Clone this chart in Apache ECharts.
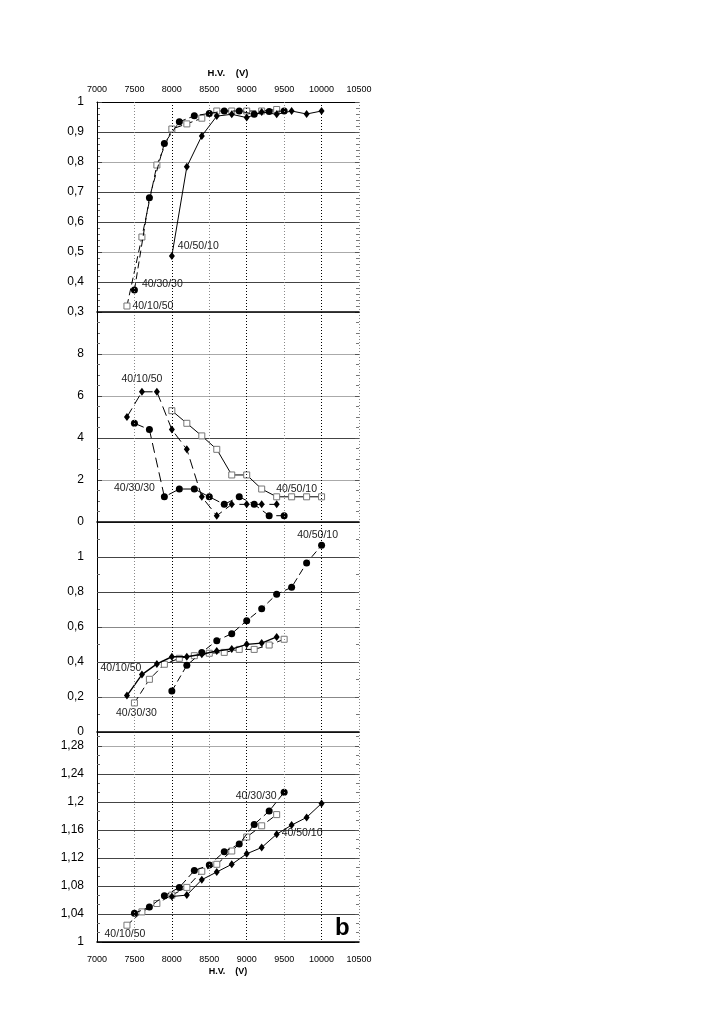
<!DOCTYPE html>
<html>
<head>
<meta charset="utf-8">
<script src="https://cdn.jsdelivr.net/npm/echarts@6/dist/echarts.min.js"></script>
<style>
    html, body { margin: 0; background: #fff; }
    #chart { width: 708px; height: 1035px; }
</style>
</head>
<body>
<div id="chart"></div>
<script>
// panel 1 (efficiency-like, 0.3 .. 1)
const p1SquareX = [7400, 7600, 7800, 8000, 8200, 8400, 8600, 8800, 9000, 9200, 9400];
const p1SquareY = [0.32, 0.55, 0.79, 0.91, 0.927, 0.946, 0.97, 0.97, 0.97, 0.97, 0.975];
const p1CircleX = [7500, 7700, 7900, 8100, 8300, 8500, 8700, 8900, 9100, 9300, 9500];
const p1CircleY = [0.373, 0.681, 0.862, 0.934, 0.954, 0.962, 0.97, 0.97, 0.959, 0.968, 0.97];
const p1DiamondX = [8000, 8200, 8400, 8600, 8800, 9000, 9200, 9400, 9600, 9800, 10000];
const p1DiamondY = [0.487, 0.784, 0.887, 0.953, 0.959, 0.948, 0.967, 0.959, 0.97, 0.96, 0.97];

// panel 2 (0 .. 10)
const p2DiamondX = [7400, 7600, 7800, 8000, 8200, 8400, 8600, 8800, 9000, 9200, 9400];
const p2DiamondY = [5.0, 6.2, 6.2, 4.4, 3.46, 1.2, 0.3, 0.84, 0.84, 0.84, 0.84];
const p2CircleX = [7500, 7700, 7900, 8100, 8300, 8500, 8700, 8900, 9100, 9300, 9500];
const p2CircleY = [4.7, 4.4, 1.2, 1.57, 1.57, 1.2, 0.84, 1.2, 0.84, 0.3, 0.3];
const p2SquareX = [8000, 8200, 8400, 8600, 8800, 9000, 9200, 9400, 9600, 9800, 10000];
const p2SquareY = [5.3, 4.7, 4.1, 3.46, 2.24, 2.24, 1.57, 1.2, 1.2, 1.2, 1.2];

// panel 3 (0 .. 1.2)
const p3CircleX = [8000, 8200, 8400, 8600, 8800, 9000, 9200, 9400, 9600, 9800, 10000];
const p3CircleY = [0.234, 0.381, 0.455, 0.522, 0.562, 0.636, 0.705, 0.787, 0.827, 0.966, 1.067];
const p3DiamondX = [7400, 7600, 7800, 8000, 8200, 8400, 8600, 8800, 9000, 9200, 9400];
const p3DiamondY = [0.208, 0.328, 0.389, 0.43, 0.43, 0.444, 0.463, 0.474, 0.501, 0.508, 0.543];
const p3SquareX = [7500, 7700, 7900, 8100, 8300, 8500, 8700, 8900, 9100, 9300, 9500];
const p3SquareY = [0.166, 0.301, 0.387, 0.421, 0.436, 0.45, 0.455, 0.472, 0.472, 0.497, 0.53];

// panel 4 (1 .. 1.3)
const p4CircleX = [7500, 7700, 7900, 8100, 8300, 8500, 8700, 8900, 9100, 9300, 9500];
const p4CircleY = [1.041, 1.05, 1.066, 1.078, 1.102, 1.11, 1.129, 1.14, 1.168, 1.187, 1.214];
const p4SquareX = [7400, 7600, 7800, 8000, 8200, 8400, 8600, 8800, 9000, 9200, 9400];
const p4SquareY = [1.024, 1.043, 1.055, 1.067, 1.078, 1.101, 1.111, 1.13, 1.15, 1.166, 1.182];
const p4DiamondX = [8000, 8200, 8400, 8600, 8800, 9000, 9200, 9400, 9600, 9800, 10000];
const p4DiamondY = [1.065, 1.067, 1.089, 1.1, 1.111, 1.126, 1.135, 1.154, 1.167, 1.178, 1.198];

const xLabels = ['7000', '7500', '8000', '8500', '9000', '9500', '10000', '10500'];
const axisTitle = 'H.V.    (V)';

const font = 'Liberation Sans';
const gridTops = [102, 312, 522, 732];
const gridHeight = 210;

const chart = echarts.init(document.getElementById('chart'));

function comma(v) {
    return String(+v.toFixed(2)).replace('.', ',');
}

function pts(xs, ys, labelAt, labelOpt) {
    return xs.map((x, i) => {
        if (i !== labelAt) return [x, ys[i]];
        return {
            value: [x, ys[i]],
            label: Object.assign({
                show: true,
                color: '#222',
                fontSize: 10.5,
                fontFamily: font
            }, labelOpt)
        };
    });
}

const marks = {
    circle: { symbol: 'circle', symbolSize: 7, itemStyle: { color: '#000' } },
    diamond: { symbol: 'diamond', symbolSize: [6, 8], itemStyle: { color: '#000' } },
    square: {
        symbol: 'rect', symbolSize: 6,
        itemStyle: { color: '#fff', borderColor: '#777', borderWidth: 1 }
    }
};

function line(grid, mark, data, dash, width) {
    return Object.assign({
        type: 'line',
        xAxisIndex: grid,
        yAxisIndex: grid,
        data: data,
        showAllSymbol: true,
        lineStyle: { color: '#000', width: width || 1, type: dash || 'solid' },
        emphasis: { disabled: true },
        label: { show: false },
        z: mark === 'square' ? 3 : 4
    }, marks[mark]);
}

function yAxis(grid, min, max, interval, minor, colors) {
    return {
        type: 'value',
        gridIndex: grid,
        min: min,
        max: max,
        interval: interval,
        axisLine: { show: true, lineStyle: { color: '#000', width: 1 } },
        axisTick: { show: true, inside: true, length: 5, lineStyle: { color: '#444' } },
        minorTick: { show: true, splitNumber: minor, length: 3, lineStyle: { color: '#666' } },
        axisLabel: {
            color: '#000', fontSize: 12, fontFamily: font, margin: 13,
            showMaxLabel: grid === 0,
            formatter: comma
        },
        splitLine: { show: true, lineStyle: { color: colors, width: 1.2 } }
    };
}

function yRight(grid, min, max, interval, minor) {
    return {
        type: 'value',
        gridIndex: grid,
        position: 'right',
        min: min,
        max: max,
        interval: interval,
        axisLine: { show: false },
        axisTick: { show: true, inside: true, length: 4, lineStyle: { color: '#555' } },
        minorTick: { show: true, splitNumber: minor, length: 3, lineStyle: { color: '#777' } },
        axisLabel: { show: false },
        splitLine: { show: false }
    };
}

function xAxis(grid) {
    const last = grid === 3;
    return {
        type: 'value',
        gridIndex: grid,
        min: 7000,
        max: 10500,
        interval: 500,
        axisLine: { show: true, onZero: false, lineStyle: { color: '#000', width: 1.6 } },
        axisTick: { show: false },
        axisLabel: {
            show: last, color: '#000', fontSize: 9, fontFamily: font, margin: 13,
            formatter: v => xLabels[Math.round((v - 7000) / 500)]
        },
        name: last ? axisTitle : '',
        nameLocation: 'middle',
        nameGap: 25,
        nameTextStyle: { color: '#000', fontSize: 9, fontWeight: 'bold', fontFamily: font },
        splitLine: { show: true, lineStyle: { color: ['#000', '#888'], type: [1, 2], width: 1 } },
        z: 5
    };
}

const grids = gridTops.map(t => ({ left: 97, width: 262, top: t, height: gridHeight }));

const xAxes = [0, 1, 2, 3].map(xAxis);
xAxes.push({
    type: 'value',
    gridIndex: 0,
    position: 'top',
    min: 7000,
    max: 10500,
    interval: 500,
    axisLine: { show: true, lineStyle: { color: '#000', width: 1.2 } },
    axisTick: { show: false },
    axisLabel: {
        color: '#000', fontSize: 9, fontFamily: font, margin: 8,
        formatter: v => xLabels[Math.round((v - 7000) / 500)]
    },
    name: axisTitle,
    nameLocation: 'middle',
    nameGap: 24,
    nameTextStyle: { color: '#000', fontSize: 9.5, fontWeight: 'bold', fontFamily: font },
    splitLine: { show: false }
});

const dark = '#444';
const light = '#aaa';

const yAxes = [
    yAxis(0, 0.3, 1, 0.1, 5, ['#000', dark, light, dark, dark, light, dark, '#000']),
    yAxis(1, 0, 10, 2, 4, ['#000', light, dark, light, light, light]),
    yAxis(2, 0, 1.2, 0.2, 2, ['#000', '#888', dark, '#888', dark, dark, dark]),
    yAxis(3, 1, 1.3, 0.04, 3, ['#000', dark, dark, dark, dark, dark, dark, light, dark]),
    yRight(0, 0.3, 1, 0.1, 5),
    yRight(1, 0, 10, 2, 4),
    yRight(2, 0, 1.2, 0.2, 2),
    yRight(3, 1, 1.3, 0.04, 3)
];

const dashA = [7, 4];
const dashB = [10, 5];

const series = [
    line(0, 'square', pts(p1SquareX, p1SquareY, 0, { formatter: '40/10/50', position: 'right', offset: [-3, 0] }), dashA),
    line(0, 'circle', pts(p1CircleX, p1CircleY, 0, { formatter: '40/30/30', position: 'right', offset: [-1, -6] }), dashA),
    line(0, 'diamond', pts(p1DiamondX, p1DiamondY, 0, { formatter: '40/50/10', position: 'right', offset: [-2, -10] })),

    line(1, 'diamond', pts(p2DiamondX, p2DiamondY, 1, { formatter: '40/10/50', position: 'top', distance: 3 }), dashB),
    line(1, 'circle', pts(p2CircleX, p2CircleY, 2, { formatter: '40/30/30', position: 'left', offset: [-1, -9] }), dashB),
    line(1, 'square', pts(p2SquareX, p2SquareY, 7, { formatter: '40/50/10', position: 'right', offset: [-9, -8] })),

    line(2, 'circle', pts(p3CircleX, p3CircleY, 10, { formatter: '40/50/10', position: 'top', offset: [-4, 4] }), dashA),
    line(2, 'diamond', pts(p3DiamondX, p3DiamondY, 0, { formatter: '40/10/50', position: 'top', offset: [-6, -13] }), 'solid', 1.4),
    line(2, 'square', pts(p3SquareX, p3SquareY, 0, { formatter: '40/30/30', position: 'bottom', offset: [2, -4] }), dashA),

    line(3, 'circle', pts(p4CircleX, p4CircleY, 10, { formatter: '40/30/30', position: 'left', offset: [1, 4] }), dashA),
    line(3, 'square', pts(p4SquareX, p4SquareY, 0, { formatter: '40/10/50', position: 'bottom', offset: [-2, -5] }), dashA),
    line(3, 'diamond', pts(p4DiamondX, p4DiamondY, 7, { formatter: '40/50/10', position: 'right', offset: [-3, -1] }))
];

chart.setOption({
    animation: false,
    backgroundColor: '#fff',
    grid: grids,
    xAxis: xAxes,
    yAxis: yAxes,
    series: series,
    graphic: [{
        type: 'text',
        left: 335,
        top: 916,
        style: { text: 'b', font: 'bold 24px "Liberation Sans"', fill: '#000' }
    }]
});
</script>
</body>
</html>
